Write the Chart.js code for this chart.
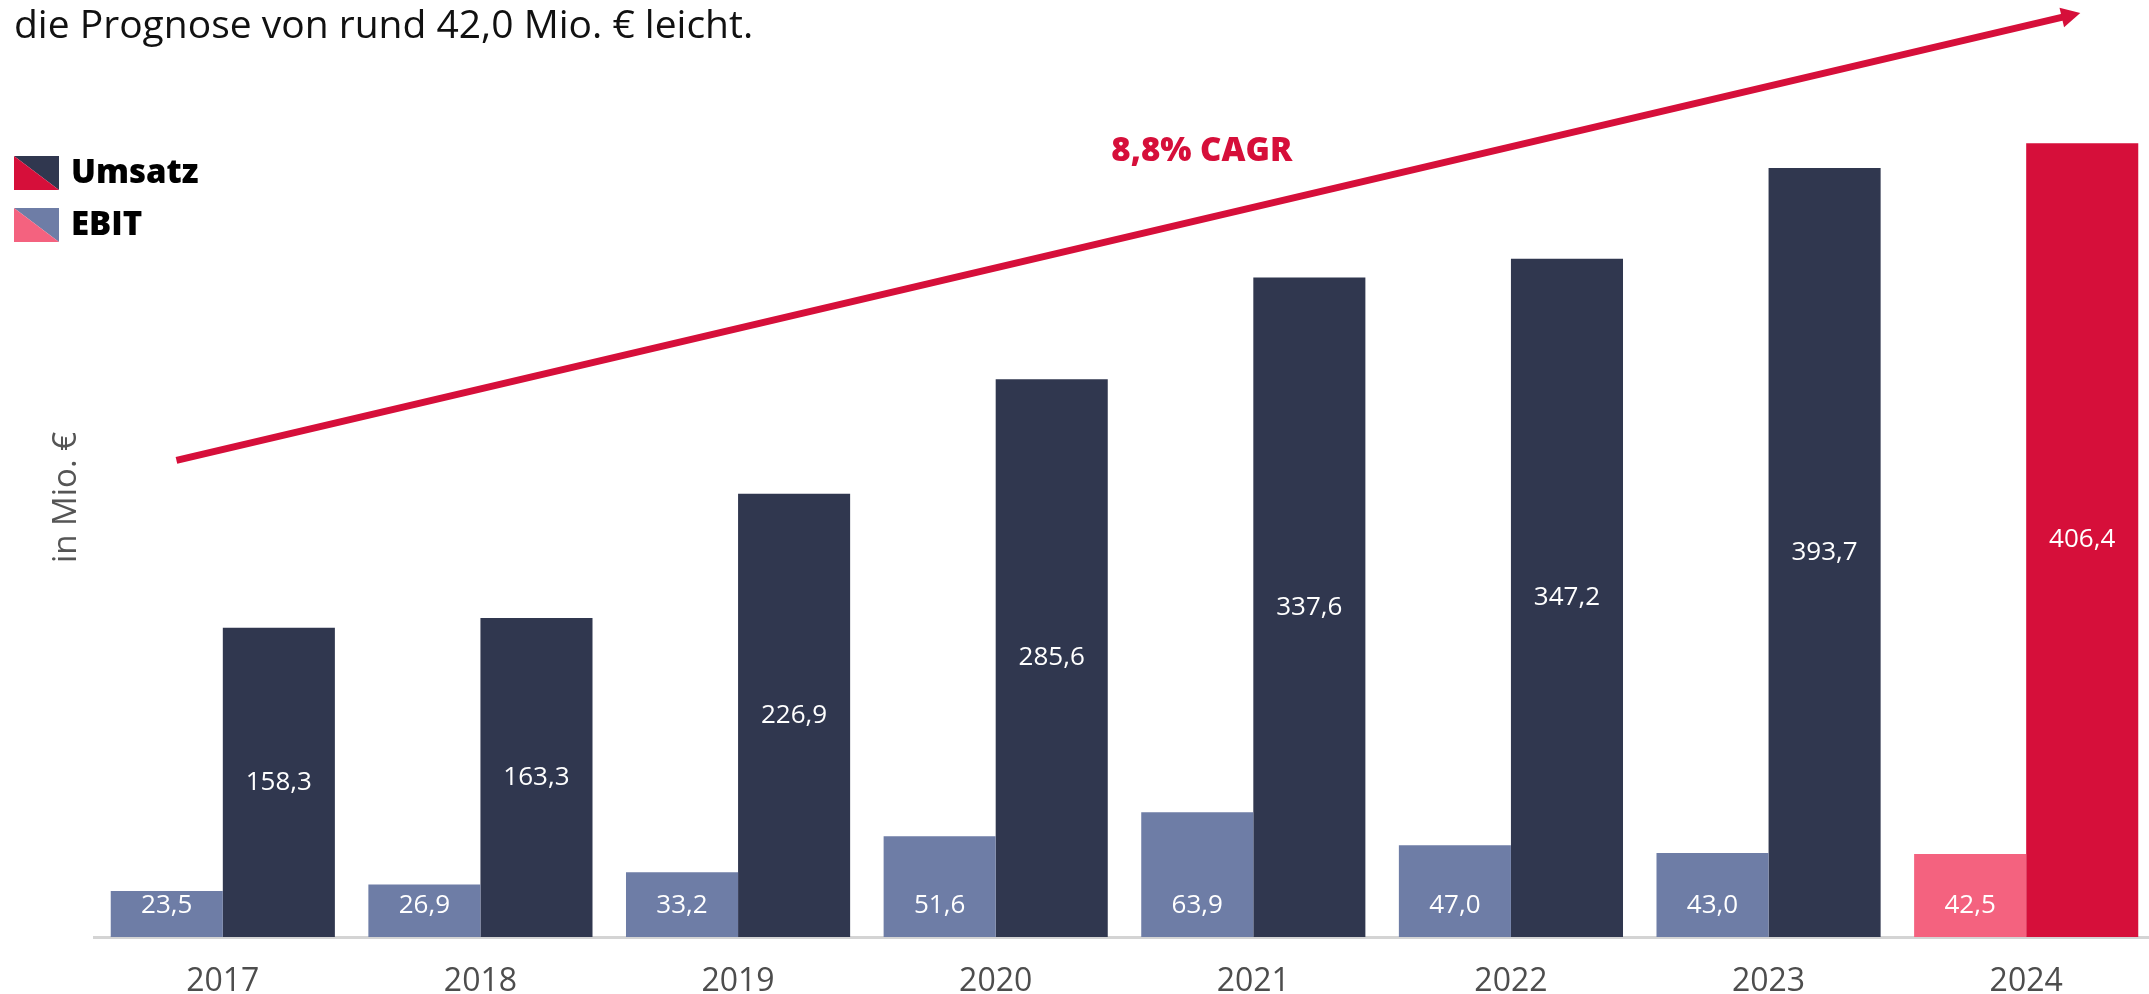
<!DOCTYPE html>
<html>
<head>
<meta charset="utf-8">
<script src="https://cdn.jsdelivr.net/npm/chart.js@4.4.1/dist/chart.umd.min.js"></script>
<style>
  html, body { margin: 0; padding: 0; background: #fff; overflow: hidden; }
  #wrap { width: 2149px; height: 994px; overflow: hidden; }
</style>
</head>
<body>
<div id="wrap"><canvas id="umsatzChart" width="2160" height="1020"></canvas></div>
<script>
// Umsatz und EBIT in Mio. €
const years = ["2017", "2018", "2019", "2020", "2021", "2022", "2023", "2024"];
const umsatz = [158.3, 163.3, 226.9, 285.6, 337.6, 347.2, 393.7, 406.4];
const ebit = [23.5, 26.9, 33.2, 51.6, 63.9, 47.0, 43.0, 42.5];
const highlightYear = "2024";

const NAVY = "#30374f";
const SLATE = "#6e7da6";
const RED = "#d60f3a";
const PINK = "#f4627f";
const FONT = "'Open Sans', sans-serif";

// arrow is anchored in data space (category index, value)
const arrowFrom = { x: -0.18, y: 244 };
const arrowTo = { x: 7.21, y: 473 };
const cagrPos = { x: 3.8, y: 402 };

function fmt(v) {
  return v.toFixed(1).replace(".", ",");
}

const barLabels = {
  id: "barLabels",
  afterDatasetsDraw(chart) {
    const ctx = chart.ctx;
    ctx.save();
    ctx.fillStyle = "#ffffff";
    ctx.font = "26px " + FONT;
    ctx.textAlign = "center";
    ctx.textBaseline = "middle";
    chart.data.datasets.forEach((ds, di) => {
      const meta = chart.getDatasetMeta(di);
      meta.data.forEach((bar, i) => {
        let y;
        if (ds.label === "Umsatz") y = (bar.y + bar.base) / 2;
        else y = bar.base - 31; // EBIT labels sit near the bottom
        ctx.fillText(fmt(ds.data[i]), bar.x, y);
      });
    });
    ctx.restore();
  }
};

const cagrArrow = {
  id: "cagrArrow",
  afterDraw(chart) {
    const ctx = chart.ctx;
    const xs = chart.scales.x, ys = chart.scales.y;
    const x0 = xs.getPixelForValue(arrowFrom.x), y0 = ys.getPixelForValue(arrowFrom.y);
    const x1 = xs.getPixelForValue(arrowTo.x), y1 = ys.getPixelForValue(arrowTo.y);
    const ang = Math.atan2(y1 - y0, x1 - x0);
    const headLen = 19, headW = 10;
    const bx = x1 - headLen * Math.cos(ang), by = y1 - headLen * Math.sin(ang);
    ctx.save();
    ctx.strokeStyle = RED;
    ctx.fillStyle = RED;
    ctx.lineWidth = 7;
    ctx.beginPath();
    ctx.moveTo(x0, y0);
    ctx.lineTo(bx + 2 * Math.cos(ang), by + 2 * Math.sin(ang));
    ctx.stroke();
    ctx.beginPath();
    ctx.moveTo(x1, y1);
    ctx.lineTo(bx + headW * Math.sin(ang), by - headW * Math.cos(ang));
    ctx.lineTo(bx - headW * Math.sin(ang), by + headW * Math.cos(ang));
    ctx.closePath();
    ctx.fill();

    ctx.font = "800 33px " + FONT;
    ctx.textAlign = "center";
    ctx.textBaseline = "middle";
    ctx.fillText("8,8% CAGR", xs.getPixelForValue(cagrPos.x), ys.getPixelForValue(cagrPos.y));
    ctx.restore();
  }
};

// legend squares split diagonally: normal colour top-right, 2024 colour bottom-left
const splitLegend = {
  id: "splitLegend",
  afterDraw(chart) {
    const ctx = chart.ctx;
    const items = [
      { label: "Umsatz", a: NAVY, b: RED, y: 156 },
      { label: "EBIT", a: SLATE, b: PINK, y: 208 }
    ];
    ctx.save();
    items.forEach((it) => {
      const x = 14, w = 45, h = 34;
      ctx.fillStyle = it.a;
      ctx.beginPath();
      ctx.moveTo(x, it.y);
      ctx.lineTo(x + w, it.y);
      ctx.lineTo(x + w, it.y + h);
      ctx.closePath();
      ctx.fill();
      ctx.fillStyle = it.b;
      ctx.beginPath();
      ctx.moveTo(x, it.y);
      ctx.lineTo(x + w, it.y + h);
      ctx.lineTo(x, it.y + h);
      ctx.closePath();
      ctx.fill();
      ctx.fillStyle = "#000";
      ctx.font = "800 33px " + FONT;
      ctx.textAlign = "left";
      ctx.textBaseline = "middle";
      ctx.fillText(it.label, 71, it.y + h / 2 + 1);
    });
    ctx.restore();
  }
};

const ctx = document.getElementById("umsatzChart").getContext("2d");
const chart = new Chart(ctx, {
  type: "bar",
  data: {
    labels: years,
    datasets: [
      {
        label: "EBIT",
        data: ebit,
        backgroundColor: years.map((y) => (y === highlightYear ? PINK : SLATE)),
        borderWidth: 0
      },
      {
        label: "Umsatz",
        data: umsatz,
        backgroundColor: years.map((y) => (y === highlightYear ? RED : NAVY)),
        borderWidth: 0
      }
    ]
  },
  options: {
    responsive: false,
    animation: false,
    devicePixelRatio: 1,
    layout: { padding: { left: 14, right: 5, top: 0, bottom: 0.6 } },
    datasets: {
      bar: { categoryPercentage: 0.87, barPercentage: 1 }
    },
    plugins: {
      legend: { display: false },
      tooltip: { enabled: false },
      title: {
        display: true,
        text: "die Prognose von rund 42,0 Mio. € leicht.",
        align: "start",
        color: "#111",
        font: { family: FONT, size: 39, weight: "400" },
        padding: { top: 3.6, bottom: 7.6 }
      }
    },
    scales: {
      x: {
        grid: { display: false },
        border: { display: true, color: "#d4d4d4", width: 3 },
        ticks: {
          color: "#4d4d4d",
          font: { family: FONT, size: 32 },
          padding: 18
        }
      },
      y: {
        min: 0,
        max: 450,
        grid: { display: false, drawTicks: false },
        border: { display: false },
        ticks: { display: false },
        title: {
          display: true,
          text: "in Mio. €",
          color: "#555",
          font: { family: FONT, size: 33 },
          padding: { top: 33.2, bottom: 7.2 }
        }
      }
    }
  },
  plugins: [barLabels, cagrArrow, splitLegend]
});
</script>
</body>
</html>
